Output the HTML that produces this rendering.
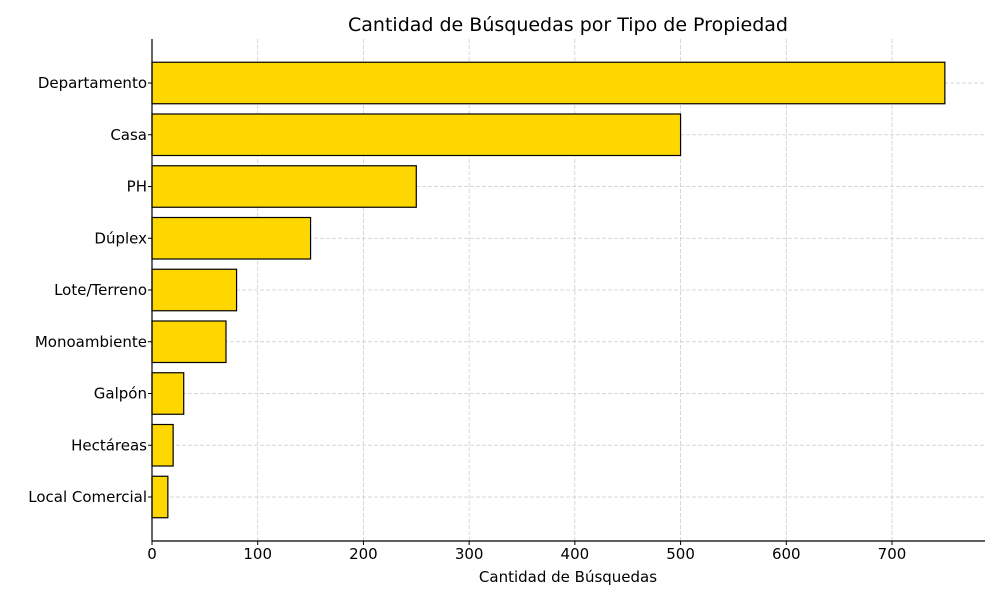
<!DOCTYPE html>
<html><head><meta charset="utf-8"><style>
body{margin:0;background:#fff;}
svg{display:block;font-family:"DejaVu Sans","Liberation Sans",sans-serif;}
</style></head><body>
<svg id="chart" width="1000" height="600">
<text x="568" y="31" text-anchor="middle" font-size="19" fill="#000">Cantidad de Búsquedas por Tipo de Propiedad</text>
<g id="grid"></g><g id="bars"></g><g id="axes"></g>
<text x="568" y="582" text-anchor="middle" font-size="15" fill="#000">Cantidad de Búsquedas</text>
</svg>
<script>
const categories=["Departamento","Casa","PH","Dúplex","Lote/Terreno","Monoambiente","Galpón","Hectáreas","Local Comercial"];
const values=[750,500,250,150,80,70,30,20,15];
const xTicks=[0,100,200,300,400,500,600,700];
const NS="http://www.w3.org/2000/svg";
const L=152,R=985,T=39,B=541;
const xs=v=>L+v*(892-152)/700;
const step=(B-T)/categories.length;
const yc=i=>83+i*51.75;
const bh=41.5;
function mk(tag,attrs,parent){const e=document.createElementNS(NS,tag);for(const k in attrs)e.setAttribute(k,attrs[k]);parent.appendChild(e);return e;}
const grid=document.getElementById('grid'),bars=document.getElementById('bars'),axes=document.getElementById('axes');
xTicks.forEach(t=>{
 const g=mk('line',{x1:xs(t),x2:xs(t),y1:T,y2:B,stroke:'#ccc','stroke-dasharray':'4,2','stroke-width':0.8},grid);
 
 
 const tk=mk('line',{x1:xs(t),x2:xs(t),y1:B,y2:B+4,stroke:'#000'},axes);
 
 
 const tx=mk('text',{x:xs(t),y:B+18,'text-anchor':'middle','font-size':15},axes);
 tx.textContent=t;
 
 
});
categories.forEach((c,i)=>{
 const y=yc(i);
 const g=mk('line',{x1:L,x2:R,y1:y,y2:y,stroke:'#ccc','stroke-dasharray':'4,2','stroke-width':0.8},grid);
 
 
 const b=mk('rect',{x:L,y:y-bh/2,width:xs(values[i])-L,height:bh,fill:'#ffd700',stroke:'#000','stroke-width':1.2},bars);
 
 
 const tk=mk('line',{x1:L-4,x2:L,y1:y,y2:y,stroke:'#000'},axes);
 
 
 const tx=mk('text',{x:L-5,y:y+5,'text-anchor':'end','font-size':15},axes);
 tx.textContent=c;
 
 
});
const ax=mk('line',{x1:L,x2:L,y1:T,y2:B,stroke:'#000','stroke-width':1.2},axes);


const bx=mk('line',{x1:L,x2:R,y1:B,y2:B,stroke:'#000','stroke-width':1.2},axes);


</script>
</body></html>
